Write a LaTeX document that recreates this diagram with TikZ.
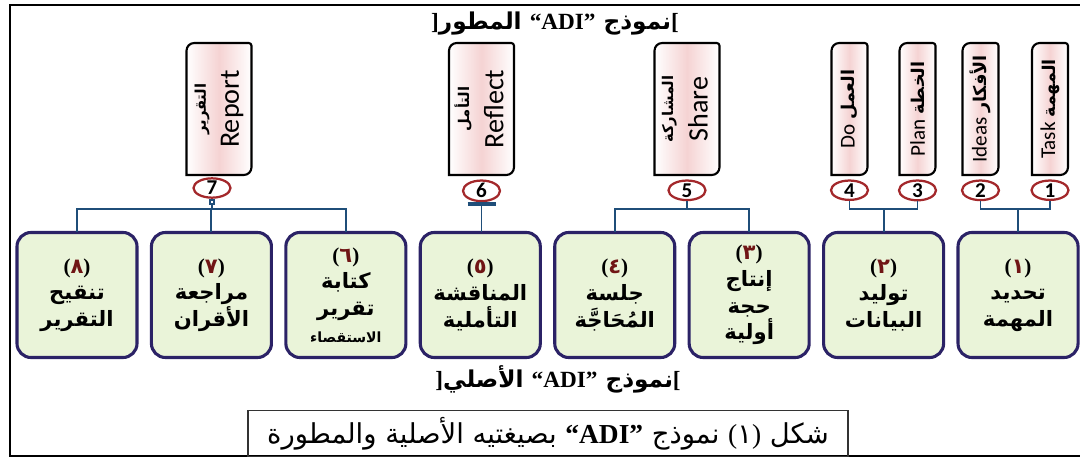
\documentclass[tikz,border=0pt]{standalone}
\usepackage{fontspec}
\setmainfont{Liberation Serif}
\newfontfamily\arabicfont[Script=Arabic]{DejaVu Sans}
\newfontfamily\tabfont{Carlito}
\TeXXeTstate=1
\usetikzlibrary{positioning,shapes.geometric,arrows.meta,backgrounds}
\definecolor{linkblue}{HTML}{1F4E79}
\definecolor{boxedge}{HTML}{2B2266}
\definecolor{boxfill}{HTML}{EAF4D9}
\definecolor{ringred}{HTML}{A3282B}
\definecolor{tabpink}{HTML}{F5D3D3}
\definecolor{numred}{HTML}{701515}
\newcommand\artext[1]{{\arabicfont\beginR#1\endR}}
\newcommand\stagenum[1]{{\rmfamily(}\textcolor{numred}{#1}{\rmfamily)}}
\newcommand\widelabel[2]{\rotatebox{90}{\begin{tabular}{@{}c@{}}{\arabicfont\bfseries\fontsize{10.5}{12}\selectfont #1}\\[7pt]{\tabfont\fontsize{20}{22}\selectfont #2}\end{tabular}}}
\newcommand\narrowlabel[2]{\rotatebox{90}{\tabfont\fontsize{15}{15}\selectfont #1 {\arabicfont\bfseries\fontsize{12.5}{12.5}\selectfont #2}}}

\begin{document}
\begin{tikzpicture}[x=0.025cm, y=-0.025cm,
  stage/.style={draw=boxedge, line width=2.2pt, rounded corners=10pt, fill=boxfill, minimum width=3cm, minimum height=3.125cm, inner sep=2pt, outer sep=0pt, align=center, font=\arabicfont\bfseries\fontsize{15}{19}\selectfont},
  tabbox/.style={minimum height=3.3cm, inner sep=0pt, outer sep=0pt},
  widetab/.style={tabbox, minimum width=1.625cm},
  narrowtab/.style={tabbox, minimum width=0.9cm},
  tabedge/.style={draw=black, line width=1.5pt, left color=white, right color=white, middle color=tabpink},
  ring/.style={ellipse, draw=ringred, line width=1.6pt, fill=white, minimum width=0.925cm, minimum height=0.43cm, inner sep=0pt, font=\tabfont\bfseries\fontsize{15}{15}\selectfont},
  link/.style={draw=linkblue, line width=1.4pt},
  heading/.style={font=\bfseries\fontsize{16.5}{19}\selectfont}]
  \useasboundingbox (0,0) rectangle (1080,459);
  \draw[line width=1.5pt] (1080,5) -- (10,5) -- (10,456) -- (1080,456);

  \node[heading] (head) at (555,24) {]\artext{نموذج \beginL{\rmfamily “ADI”}\endL{} المطور}[};

  \node[widetab] (t7) at (219,109) {\widelabel{التقرير}{Report}};
  \node[widetab] (t6) at (481.5,109) {\widelabel{التأمل}{Reflect}};
  \node[widetab] (t5) at (687,109) {\widelabel{المشاركة}{Share}};
  \node[narrowtab] (t4) at (849.5,109) {\narrowlabel{Do}{العمل}};
  \node[narrowtab] (t3) at (917.5,109) {\narrowlabel{Plan}{الخطة}};
  \node[narrowtab] (t2) at (980.5,109) {\narrowlabel{Ideas}{الأفكار}};
  \node[narrowtab] (t1) at (1050,109) {\narrowlabel{Task}{المهمة}};
  \begin{scope}[on background layer]
    \foreach \t in {t1,t2,t3,t4,t5,t6,t7}
      \draw[tabedge] (\t.south west) -- ([yshift=-5.5pt]\t.north west) arc[start angle=180, end angle=90, radius=5.5pt] -- ([xshift=-2pt]\t.north east) arc[start angle=90, end angle=0, radius=2pt] -- ([yshift=5.5pt]\t.south east) arc[start angle=0, end angle=-90, radius=5.5pt] -- cycle;
  \end{scope}

  \node[ring] (c7) at (212,188) {7};
  \node[ring, below=0.11cm of t6] (c6) {6};
  \node[ring, below=0.11cm of t5] (c5) {5};
  \node[ring, below=0.11cm of t4] (c4) {4};
  \node[ring, below=0.11cm of t3] (c3) {3};
  \node[ring, below=0.11cm of t2] (c2) {2};
  \node[ring, below=0.11cm of t1] (c1) {1};

  \node[stage] (b8) at (77,295) {\stagenum{٨}\\تنقيح\\التقرير};
  \node[stage, right=0.36cm of b8] (b7) {\stagenum{٧}\\مراجعة\\الأقران};
  \node[stage, right=0.36cm of b7] (b6) {\stagenum{٦}\\كتابة\\تقرير\\{\fontsize{10}{12}\selectfont الاستقصاء}};
  \node[stage, right=0.36cm of b6] (b5) {\stagenum{٥}\\المناقشة\\التأملية};
  \node[stage, right=0.36cm of b5] (b4) {\stagenum{٤}\\جلسة\\المُحَاجَّة};
  \node[stage, right=0.36cm of b4] (b3) {\stagenum{٣}\\إنتاج\\حجة\\أولية};
  \node[stage, right=0.36cm of b3] (b2) {\stagenum{٢}\\توليد\\البيانات};
  \node[stage, right=0.36cm of b2] (b1) {\stagenum{١}\\تحديد\\المهمة};

  \coordinate (j7) at (b7.north |- 0,209);
  \draw[link, {Square[open, length=0.15cm, width=0.15cm]}-] (c7.south) -- (c7.south |- j7);
  \draw[link] (b8.north) |- (j7) -| (b6.north);
  \draw[link] (j7) -- (b7.north);
  \draw[link, {Bar[width=0.7cm, line width=2.4pt]}-] (c6.south) -- (c6.south |- b5.north);
  \coordinate (j5) at (c5.south |- 0,209);
  \draw[link] (c5.south) -- (j5);
  \draw[link] (b4.north) |- (j5) -| (b3.north);
  \coordinate (j34) at (b2.north |- 0,209);
  \draw[link] (c4.south) |- (j34) -| (c3.south);
  \draw[link] (j34) -- (b2.north);
  \coordinate (j12) at (b1.north |- 0,209);
  \draw[link] (c2.south) |- (j12) -| (c1.south);
  \draw[link] (j12) -- (b1.north);

  \node[heading] (orig) at (558,379) {]\artext{نموذج \beginL{\rmfamily “ADI”}\endL{} الأصلي}[};
  \node[draw=black!80, line width=1pt, minimum width=15cm, minimum height=1.15cm, inner sep=0pt, font=\fontsize{19.5}{22}\selectfont] (cap) at (548,433.5) {\artext{شكل \beginL{\rmfamily(}١{\rmfamily)}\endL{} نموذج \beginL{\rmfamily\bfseries “ADI”}\endL{} بصيغتيه الأصلية والمطورة}};
\end{tikzpicture}
\end{document}
